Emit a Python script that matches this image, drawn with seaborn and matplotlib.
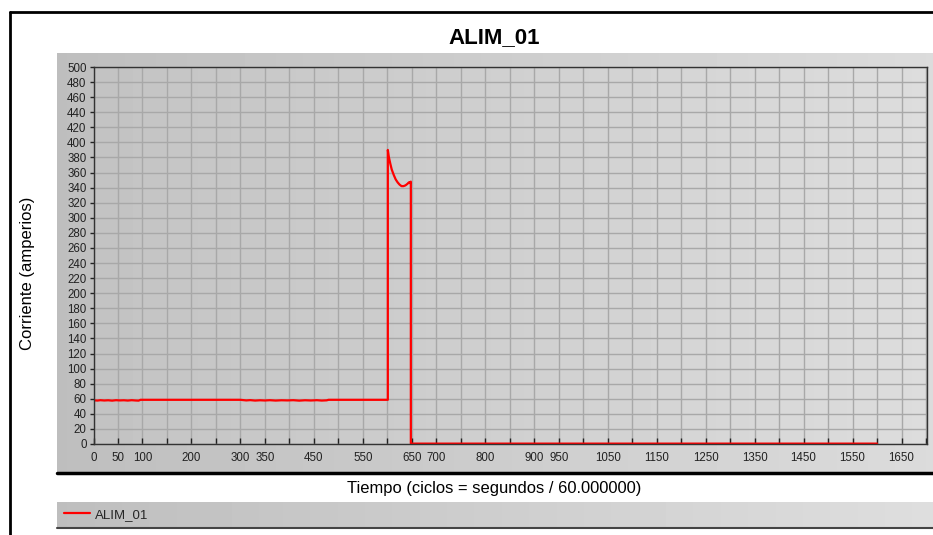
import numpy as np
import pandas as pd
import matplotlib
matplotlib.use('Agg')
import matplotlib.pyplot as plt
import seaborn as sns
from matplotlib.lines import Line2D

sns.set_theme(style='white')
plt.rcParams['font.family'] = ['Liberation Sans', 'DejaVu Sans']

title = 'ALIM_01'
series_name = 'ALIM_01'
x_label = 'Tiempo (ciclos = segundos / 60.000000)'
y_label = 'Corriente (amperios)'

tiempo = [0, 8, 14, 22, 30, 38, 46, 54, 62, 70, 78, 86, 92, 96,
          300, 312, 320, 330, 340, 350, 360, 372, 384, 396, 408, 420, 432, 444, 456, 466, 476, 480,
          601, 601, 603, 606, 609, 613, 617, 621, 625, 629, 633, 637, 641, 644, 646, 648, 648, 1600]
corriente = [58.0, 57.6, 58.1, 57.7, 58.0, 57.5, 58.1, 57.8, 58.0, 57.6, 58.1, 57.7, 57.5, 58.6,
             58.6, 57.8, 58.2, 57.6, 58.0, 57.7, 58.1, 57.6, 58.0, 57.8, 58.1, 57.5, 58.0, 57.7, 58.1, 57.6, 57.9, 58.6,
             58.6, 390, 381, 372, 364, 357, 351, 347, 344, 342, 342, 343, 345, 347, 346, 348, 0.5, 0.5]

x_tick_labels = [0, 50, 100, 200, 300, 350, 450, 550, 650, 700, 800, 900, 950,
                 1050, 1150, 1250, 1350, 1450, 1550, 1650]
x_max = 1702
y_max = 500

W, H = 933, 535
fig = plt.figure(figsize=(W / 100, H / 100), dpi=100)
fig.patch.set_facecolor('white')


def rect(x0, y0, x1, y1):
    return [x0 / W, 1 - y1 / H, (x1 - x0) / W, (y1 - y0) / H]


def gradient_axes(r, c0, c1):
    a = fig.add_axes(r)
    g = np.linspace(c0, c1, 256)[None, :]
    a.imshow(g, aspect='auto', cmap='gray', vmin=0, vmax=1, extent=[0, 1, 0, 1])
    a.set_axis_off()
    return a

# outer gray panel
gradient_axes(rect(57, 53, 933, 472), 0.745, 0.86)
# plot-area gradient
gradient_axes(rect(93.5, 67, 927, 444), 0.765, 0.865)
# legend strip
gradient_axes(rect(57, 502, 933, 527), 0.745, 0.87)

ax = fig.add_axes(rect(93.5, 67, 927, 444))
ax.patch.set_visible(False)

df = pd.DataFrame({'Tiempo': tiempo, 'Corriente': corriente})
sns.lineplot(data=df, x='Tiempo', y='Corriente', ax=ax, color='#ff0000',
             estimator=None, sort=False, linewidth=1.6, legend=False)

ax.set_xlim(0, x_max)
ax.set_ylim(0, y_max)
xt = list(range(0, 1701, 50))
ax.set_xticks(xt)
ax.set_xticklabels([str(v) if v in x_tick_labels else '' for v in xt])
ax.set_yticks(range(0, y_max + 1, 20))
ax.set_yticklabels([str(v) for v in range(0, y_max + 1, 20)])
ax.tick_params(axis='x', direction='in', length=4, width=1, color='#222222',
               labelsize=8.3, pad=6, labelcolor='#222222', bottom=True)
ax.tick_params(axis='y', direction='out', length=3, width=1, color='#222222',
               labelsize=8.3, pad=2, labelcolor='#222222', left=True)
ax.grid(True, color='#a8a8a8', linewidth=1)
ax.set_axisbelow(True)
for s in ax.spines.values():
    s.set_visible(True)
    s.set_color('#333333')
    s.set_linewidth(1)
ax.set_xlabel('')
ax.set_ylabel('')

# texts
fig.text(494 / W, 1 - 38 / H, title, ha='center', va='center', fontsize=16,
         fontweight='bold', color='black')
fig.text(494 / W, 1 - 488 / H, x_label, ha='center', va='center', fontsize=11.9, color='black')
fig.text(28 / W, 1 - 273 / H, y_label, ha='center', va='center', fontsize=12,
         rotation=90, color='black')

# frame lines
fig.add_artist(Line2D([10 / W, 1], [1 - 12 / H, 1 - 12 / H], color='black', lw=2))
fig.add_artist(Line2D([10 / W, 10 / W], [1 - 12 / H, 0], color='black', lw=2))
fig.add_artist(Line2D([57 / W, 1], [1 - 473 / H, 1 - 473 / H], color='black', lw=2.5))
fig.add_artist(Line2D([57 / W, 1], [1 - 527.5 / H, 1 - 527.5 / H], color='#444444', lw=1.5))

# legend
ax_leg = fig.add_axes(rect(57, 502, 933, 527))
ax_leg.set_axis_off()
handle = Line2D([], [], color='#ff0000', lw=1.6)
ax_leg.legend([handle], [series_name], loc='center left', frameon=False,
              fontsize=9.5, handlelength=2.0, borderaxespad=0.1, handletextpad=0.4)

fig.savefig('out.png', dpi=100)
